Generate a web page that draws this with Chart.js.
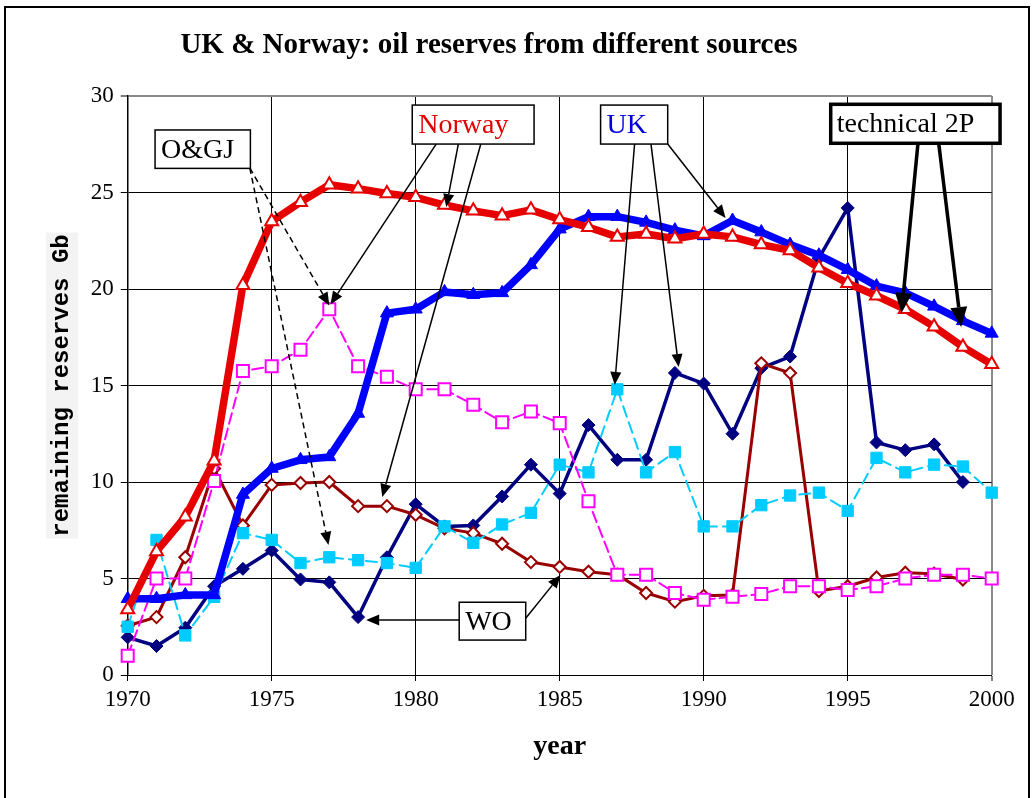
<!DOCTYPE html>
<html><head><meta charset="utf-8">
<script src="https://cdn.jsdelivr.net/npm/chart.js@4"></script>
<style>html,body{margin:0;padding:0;background:#fff}#wrap{width:1035px;height:798px;position:relative}</style>
</head><body><div id="wrap"><canvas id="c"></canvas></div>
<script>
// ---- data ----
const years = [1970,1971,1972,1973,1974,1975,1976,1977,1978,1979,1980,1981,1982,1983,1984,1985,1986,1987,1988,1989,1990,1991,1992,1993,1994,1995,1996,1997,1998,1999,2000];
const norwayTech2P = [3.4,6.4,8.2,11.1,20.2,23.5,24.5,25.4,25.2,24.95,24.75,24.35,24.05,23.8,24.1,23.6,23.2,22.7,22.85,22.6,22.85,22.7,22.3,22.0,21.1,20.3,19.65,18.95,18.05,17.0,16.1];
const ukTech2P = [3.95,3.95,4.15,4.15,9.35,10.7,11.15,11.3,13.55,18.75,18.95,19.85,19.7,19.8,21.25,23.1,23.75,23.75,23.45,23.05,22.75,23.55,22.95,22.3,21.75,21.0,20.15,19.8,19.1,18.35,17.7];
const norwayOGJ = [1.0,5.0,5.0,10.05,15.75,16.0,16.85,18.95,16.0,15.45,14.8,14.8,14.0,13.1,13.65,13.05,9.0,5.2,5.2,4.25,3.9,4.05,4.2,4.6,4.6,4.4,4.6,5.0,5.2,5.2,5.0];
const ukOGJ = [2.5,7.0,2.05,4.05,7.35,7.0,5.8,6.1,5.95,5.8,5.55,7.7,6.85,7.8,8.4,10.9,10.5,14.8,10.5,11.55,7.7,7.7,8.8,9.3,9.45,8.5,11.25,10.5,10.9,10.8,9.45];
const norwayWO = [2.55,3.0,6.1,10.7,7.75,9.85,9.95,10.0,8.75,8.75,8.3,7.6,7.35,6.8,5.85,5.6,5.35,5.2,4.25,3.8,4.1,4.15,16.15,15.65,4.35,4.6,5.05,5.3,5.25,4.95,null];
const ukWO = [1.95,1.5,2.45,4.6,5.5,6.45,4.95,4.8,3.0,6.1,8.85,7.7,7.75,9.25,10.9,9.4,12.95,11.15,11.15,15.65,15.1,12.5,15.9,16.5,21.6,24.2,12.05,11.65,11.95,10.0,null];
const xTickLabels = [1970,1975,1980,1985,1990,1995,2000];
const yTickLabels = [0,5,10,15,20,25,30];

const chartTitle = 'UK & Norway: oil reserves from different sources';
const xTitle = 'year';
const yTitle = 'remaining reserves Gb';

// ---- annotation callouts (in data coordinates) ----
const callouts = [
  {text:'O&GJ', color:'#000', box:[1970.95,28.24,1974.26,26.25], lw:1.5,
   arrows:[{from:[1974.24,26.27], to:[1977.0,19.15], dash:[6,4]},
           {from:[1974.24,26.27], to:[1976.97,6.74], dash:[6,4]}]},
  {text:'Norway', color:'#e00000', box:[1979.88,29.53,1984.11,27.51], lw:1.5,
   arrows:[{from:[1980.71,27.51], to:[1977.04,19.2]},
           {from:[1981.48,27.51], to:[1981.06,24.25]},
           {from:[1982.26,27.51], to:[1978.84,9.22]}]},
  {text:'UK', color:'#0000dd', box:[1986.42,29.53,1988.75,27.51], lw:1.5,
   arrows:[{from:[1987.6,27.51], to:[1986.91,15.03]},
           {from:[1988.17,27.51], to:[1989.13,15.96]},
           {from:[1988.75,27.51], to:[1990.76,23.68]}]},
  {text:'technical 2P', color:'#000', box:[1994.41,29.57,2000.29,27.55], lw:3.5, big:true,
   arrows:[{from:[1997.44,27.55], to:[1996.87,18.76]},
           {from:[1998.16,27.55], to:[1998.94,18.03]}]},
  {text:'WO', color:'#000', box:[1981.51,3.77,1983.82,1.81], lw:1.5,
   arrows:[{from:[1981.51,2.85], to:[1978.28,2.85]},
           {from:[1983.82,2.94], to:[1985.03,5.18]}]}
];

const pts = arr => years.map((y,i)=>({x:y, y:arr[i]}));

function drawArrow(ctx, x0, y0, x1, y1, lw, dash, headLen, headW) {
  const dx = x1-x0, dy = y1-y0, L = Math.hypot(dx,dy);
  const ux = dx/L, uy = dy/L;
  const bx = x1-ux*headLen, by = y1-uy*headLen;
  ctx.save();
  ctx.strokeStyle = '#000'; ctx.fillStyle = '#000'; ctx.lineWidth = lw;
  ctx.setLineDash(dash || []);
  ctx.beginPath(); ctx.moveTo(x0,y0); ctx.lineTo(bx,by); ctx.stroke();
  ctx.setLineDash([]);
  ctx.beginPath();
  ctx.moveTo(x1,y1);
  ctx.lineTo(bx - uy*headW/2, by + ux*headW/2);
  ctx.lineTo(bx + uy*headW/2, by - ux*headW/2);
  ctx.closePath(); ctx.fill();
  ctx.restore();
}

const decor = {
  id:'decor',
  beforeDraw(chart){
    const ctx = chart.ctx, a = chart.chartArea;
    ctx.save();
    ctx.fillStyle = '#fff'; ctx.fillRect(0,0,chart.width,chart.height);
    // light background behind the y title
    const cy = (a.top+a.bottom)/2;
    ctx.fillStyle = '#f3f3f3';
    ctx.fillRect(46, cy-153, 32, 306);
    // chart title
    ctx.fillStyle = '#000';
    ctx.font = 'bold 29px "Liberation Serif"';
    ctx.textAlign = 'center'; ctx.textBaseline = 'middle';
    ctx.fillText(chartTitle, 489, 46);
    ctx.restore();
  },
  afterDraw(chart){
    const ctx = chart.ctx, xs = chart.scales.x, ys = chart.scales.y;
    const px = v => xs.getPixelForValue(v), py = v => ys.getPixelForValue(v);
    ctx.save();
    callouts.forEach(c => {
      c.arrows.forEach(ar => {
        drawArrow(ctx, px(ar.from[0]), py(ar.from[1]), px(ar.to[0]), py(ar.to[1]),
          c.big ? 3.5 : 1.5, ar.dash, c.big ? 20 : 13, c.big ? 17 : 11);
      });
    });
    callouts.forEach(c => {
      const x0 = px(c.box[0]), y0 = py(c.box[1]), x1 = px(c.box[2]), y1 = py(c.box[3]);
      ctx.fillStyle = '#fff'; ctx.fillRect(x0,y0,x1-x0,y1-y0);
      ctx.strokeStyle = '#000'; ctx.lineWidth = c.lw; ctx.strokeRect(x0,y0,x1-x0,y1-y0);
      ctx.fillStyle = c.color;
      ctx.font = '28px "Liberation Serif"';
      ctx.textBaseline = 'middle'; ctx.textAlign = 'left';
      ctx.fillText(c.text, x0+6, (y0+y1)/2+1);
    });
    // outer frame
    ctx.strokeStyle = '#000'; ctx.lineWidth = 2;
    ctx.strokeRect(5, 7, 1024, 820);
    ctx.restore();
  }
};

const serif = 'Liberation Serif';
new Chart(document.getElementById('c'), {
  type: 'line',
  data: {
    datasets: [
      {label:'Norway technical 2P', data:pts(norwayTech2P), borderColor:'#e60000', borderWidth:7.5,
       pointStyle:'triangle', pointRadius:7.5, pointBackgroundColor:'#fff', pointBorderColor:'#e60000', pointBorderWidth:2},
      {label:'UK technical 2P', data:pts(ukTech2P), borderColor:'#0000ff', borderWidth:7.5,
       pointStyle:'triangle', pointRadius:7.5, pointBackgroundColor:'#0000ff', pointBorderColor:'#0000ff', pointBorderWidth:1},
      {label:'Norway O&GJ', data:pts(norwayOGJ), borderColor:'#ff00ff', borderWidth:2, borderDash:[11,5],
       pointStyle:'rect', pointRadius:8.5, pointBackgroundColor:'#fff', pointBorderColor:'#ff00ff', pointBorderWidth:2},
      {label:'UK O&GJ', data:pts(ukOGJ), borderColor:'#00ccff', borderWidth:2, borderDash:[11,6],
       pointStyle:'rect', pointRadius:8, pointBackgroundColor:'#00ccff', pointBorderColor:'#00ccff', pointBorderWidth:1},
      {label:'Norway WO', data:pts(norwayWO), borderColor:'#990000', borderWidth:3,
       pointStyle:'rectRot', pointRadius:6, pointBackgroundColor:'#fff', pointBorderColor:'#990000', pointBorderWidth:2},
      {label:'UK WO', data:pts(ukWO), borderColor:'#000080', borderWidth:3.5,
       pointStyle:'rectRot', pointRadius:6.5, pointBackgroundColor:'#000080', pointBorderColor:'#000080', pointBorderWidth:1}
    ].map(d => Object.assign({tension:0, spanGaps:false, fill:false, borderJoinStyle:'round', borderCapStyle:'round', clip:false}, d))
  },
  options: {
    responsive:true, maintainAspectRatio:false, animation:false,
    events: [],
    layout:{padding:{left:10, right:43.3, top:96, bottom:10}},
    plugins:{
      legend:{display:false}, tooltip:{enabled:false}, title:{display:false}
    },
    scales:{
      x:{type:'linear', min:xTickLabels[0], max:xTickLabels[xTickLabels.length-1],
        afterBuildTicks: s => { s.ticks = xTickLabels.map(v => ({value:v})); },
        afterFit: s => { s.height = 113; },
        ticks:{callback: v => String(v), color:'#000', font:{family:serif, size:23}, padding:5, maxRotation:0, autoSkip:false},
        grid:{color: c => (c.tick && c.tick.value === 2000) ? '#8a8a8a' : '#000',
              lineWidth: c => (c.tick && c.tick.value === 2000) ? 2 : 1,
              tickLength:6, tickColor:'#000', tickWidth:1},
        border:{color:'#000', width:1},
        title:{display:true, text:xTitle, color:'#000', font:{family:serif, size:28, weight:'bold'}, padding:{top:0, bottom:24}}
      },
      y:{type:'linear', min:yTickLabels[0], max:yTickLabels[yTickLabels.length-1],
        afterBuildTicks: s => { s.ticks = yTickLabels.map(v => ({value:v})); },
        afterFit: s => { s.width = 117.7; },
        ticks:{color:'#000', font:{family:serif, size:23}, padding:7},
        grid:{color: c => (c.tick && c.tick.value === 30) ? '#8a8a8a' : '#000',
              lineWidth: c => (c.tick && c.tick.value === 30) ? 2 : 1,
              tickLength:7, tickColor:'#000', tickWidth:1},
        border:{color:'#000', width:1.5},
        title:{display:true, text:yTitle, color:'#000', font:{family:'Liberation Mono', size:24, weight:'bold'}, padding:{top:37.6, bottom:0}}
      }
    }
  },
  plugins:[decor]
});
</script></body></html>
